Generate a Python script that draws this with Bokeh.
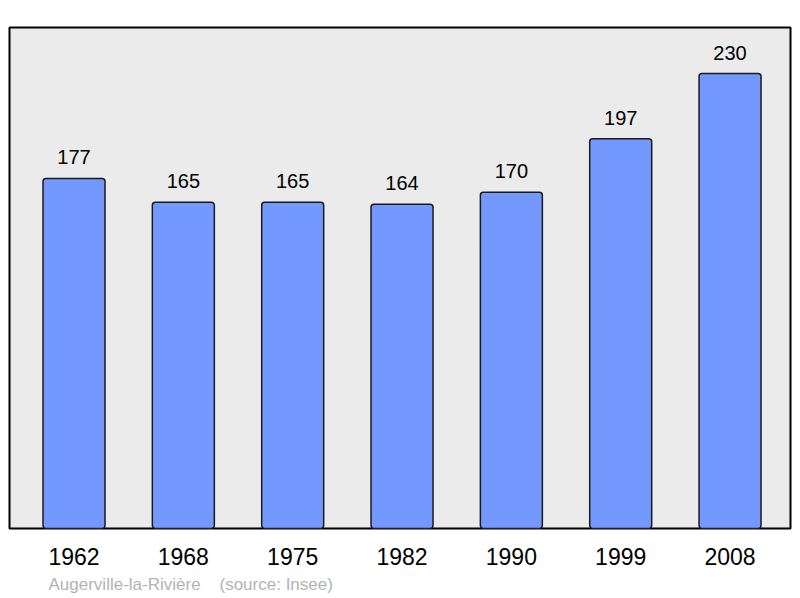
from bokeh.plotting import figure
from bokeh.models import FixedTicker, Title
from bokeh.embed import file_html
from bokeh.resources import INLINE

# Population figures (Insee)
years = ["1962", "1968", "1975", "1982", "1990", "1999", "2008"]
population = [177, 165, 165, 164, 170, 197, 230]
xpos = list(range(len(years)))

p = figure(
    width=800, height=598,
    x_range=(-0.59, 6.553), y_range=(0, 253.3),
    output_backend="svg", toolbar_location=None, tools="",
    min_border_left=9, min_border_right=10, min_border_top=27, min_border_bottom=10,
)

p.background_fill_color = "#ebebeb"
p.border_fill_color = "white"
p.outline_line_color = "black"
p.outline_line_width = 2
p.grid.grid_line_color = None
p.yaxis.visible = False

p.vbar(x=xpos, top=population, width=0.567, bottom=0,
       fill_color="#7399ff", line_color="#1a1a1a", line_width=1.5,
       border_radius=3)

# value labels above the bars
p.text(x=xpos, y=population, text=[str(v) for v in population],
       text_align="center", text_baseline="alphabetic", y_offset=-21,
       text_font={"value": "Liberation Sans"}, text_font_size="20px",
       text_color="black")

xa = p.xaxis[0]
xa.ticker = FixedTicker(ticks=xpos)
xa.major_label_overrides = {i: y for i, y in enumerate(years)}
xa.axis_line_color = None
xa.major_tick_line_color = None
xa.minor_tick_line_color = None
xa.major_label_text_font = "Liberation Sans"
xa.major_label_text_font_size = "23px"
xa.major_label_text_color = "black"
xa.major_label_standoff = 13

footer = Title(text="Augerville-la-Rivière\u00a0\u00a0\u00a0\u00a0(source: Insee)",
               align="left", offset=39, text_font="Liberation Sans",
               text_font_size="17px", text_font_style="normal",
               text_color="#b3b3b3", standoff=10)
p.add_layout(footer, "below")

open("out.html", "w").write(file_html(p, INLINE))
